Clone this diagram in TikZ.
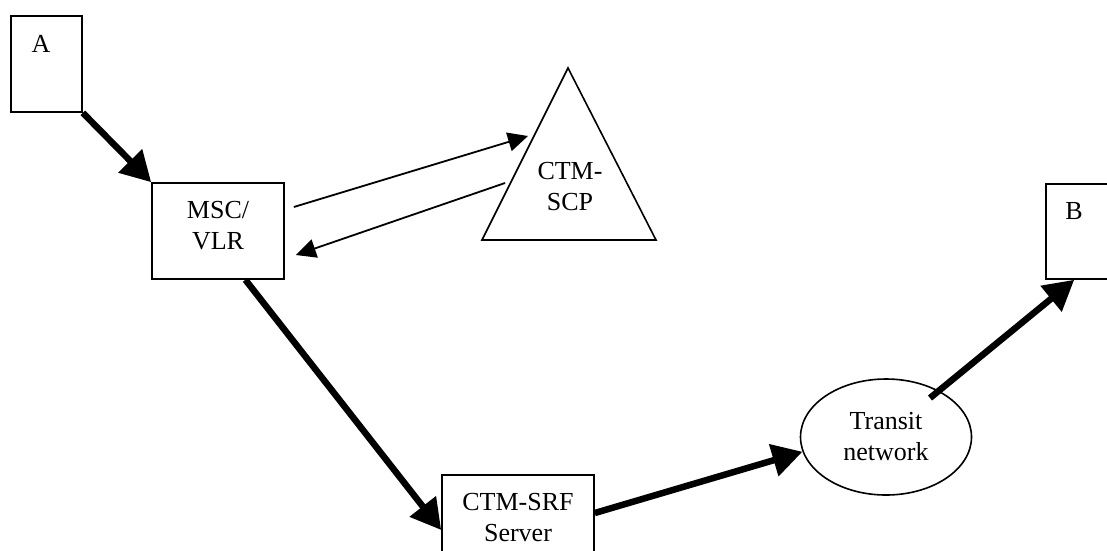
\documentclass[tikz,border=0pt]{standalone}
\usepackage{fontspec}
\setmainfont{Liberation Serif}
\usetikzlibrary{arrows.meta,shapes.geometric,calc}
\begin{document}
\begin{tikzpicture}[x=1pt,y=-1pt,
  every node/.style={font=\fontsize{26}{31}\selectfont},
  box/.style={draw,line width=1.6pt,inner sep=0pt,align=center},
  thickarrow/.style={line width=6.5pt,-{Triangle[length=30pt,width=32pt]}},
  thinarrow/.style={line width=1.8pt,-{Triangle[length=20pt,width=19pt]}}]
\useasboundingbox (0,0) rectangle (1107,550);
% boxes
\node[box, minimum width=71pt, minimum height=96pt] (A) at (46.5,64) {};
\node (Alab) at (41,44) {A};
\node[box, minimum width=71pt, minimum height=95pt] (B) at (1081.5,231.5) {};
\node (Blab) at (1074,211) {B};
\node[box, minimum width=132pt, minimum height=96pt, text depth=12pt] (MSC) at (218,231) {MSC/\\VLR};
\node[box, minimum width=152pt, minimum height=96pt, text depth=12pt] (SRF) at (518,523) {CTM-SRF\\Server};
\node[box, ellipse, minimum width=171pt, minimum height=116pt] (T) at (886,437) {Transit\\network};
% triangle
\coordinate (apex) at (568,68);
\coordinate (bl) at (482,240);
\coordinate (br) at (656,240);
\draw[line width=1.6pt, line join=miter] (apex) -- (br) -- (bl) -- cycle;
\node[align=center] (SCP) at (570,187) {CTM-\\SCP};
\coordinate (scpin) at (528,136);
\coordinate (scpout) at (505,183);
% connectors
\draw[thickarrow] (A.south east) -- (MSC.north west);
\draw[thickarrow] ($(MSC.south west)!0.705!(MSC.south east)$) -- ([shift={(0,7)}]SRF.west);
\draw[thickarrow] ([shift={(0,-10)}]SRF.east) -- (T.190);
\draw[thickarrow] ([shift={(44,-39)}]T.center) -- ([shift={(29,0)}]B.south west);
\draw[thinarrow] ([shift={(9,-24)}]MSC.east) -- (scpin);
\draw[thinarrow] (scpout) -- ([shift={(11,24)}]MSC.east);
\end{tikzpicture}
\end{document}
